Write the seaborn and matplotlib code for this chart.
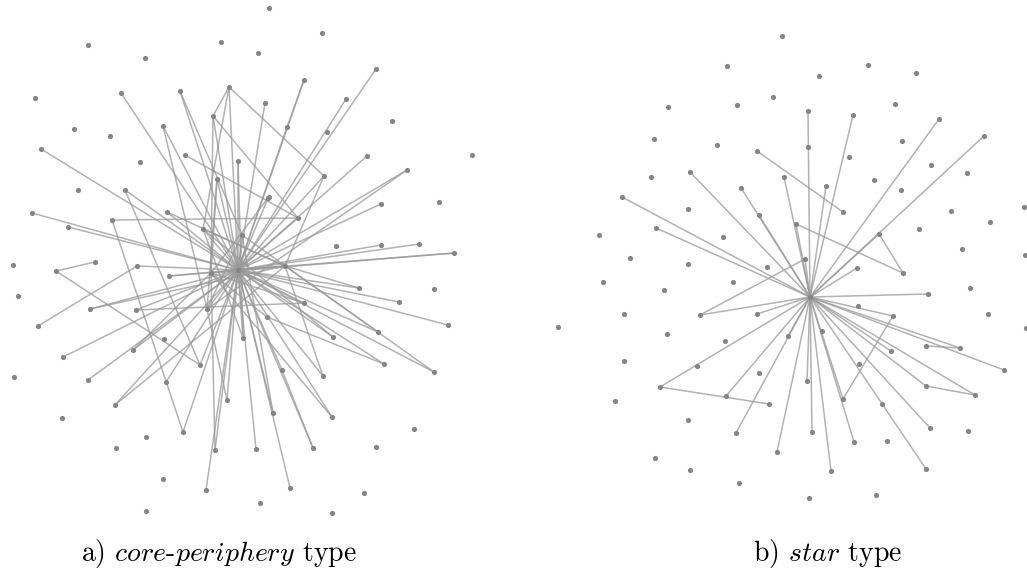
import numpy as np
import pandas as pd
import matplotlib
matplotlib.use("Agg")
import matplotlib.pyplot as plt
from matplotlib.collections import LineCollection
import seaborn as sns

# ---------------- panel a: core-periphery network (pixel layout) ----------------
a_x = [238, 88, 145, 221, 35, 74, 110, 140, 78, 269, 322, 258, 392, 327, 472, 439, 269, 336,
       13, 18, 14, 62, 146, 116, 163, 146, 434, 267, 414, 376, 364, 260, 332, 164,
       121, 180, 229, 163, 213, 41, 185, 125, 32, 68, 112, 167,
       376, 304, 346, 265, 287, 367, 407, 324, 381, 381, 419, 454, 298, 268,
       56, 95, 90, 136, 38, 63, 133, 200, 88, 166, 115, 227, 183, 215, 206, 137, 169,
       359, 399, 448, 333, 378, 384, 434, 282, 323, 273, 332, 256, 313, 290, 304, 243,
       211, 203, 242, 285, 207, 217, 238]
a_y = [270, 45, 58, 42, 98, 129, 136, 162, 190, 8, 33, 53, 121, 132, 155, 202, 197, 246,
       265, 296, 377, 418, 437, 448, 479, 511, 289, 317, 429, 447, 493, 503, 513, 339,
       93, 91, 87, 126, 116, 149, 155, 190, 213, 227, 220, 212,
       69, 80, 99, 103, 127, 156, 170, 176, 204, 245, 244, 253, 218, 198,
       271, 262, 309, 310, 326, 357, 350, 365, 380, 382, 405, 400, 432, 450, 490, 266, 276,
       288, 302, 325, 337, 332, 364, 372, 370, 376, 413, 417, 449, 448, 488, 303, 338,
       273, 229, 235, 266, 309, 179, 161]
a_hub_links = [34, 35, 36, 37, 38, 39, 41, 42, 43, 45, 46, 47, 48, 49, 50, 51, 52, 53,
               54, 55, 56, 57, 58, 59, 62, 63, 65, 66, 67, 68, 69, 70, 71, 72, 73, 74,
               75, 76, 77, 78, 79, 80, 81, 82, 83, 84, 85, 86, 87, 88, 89, 90, 91, 92,
               93, 94, 95, 96, 97, 98, 99]
a_extra_edges = [(36, 53), (36, 38), (36, 94), (38, 93), (38, 58), (41, 67), (60, 61),
                 (60, 67), (64, 75), (44, 58), (44, 72), (40, 58), (53, 96), (82, 27),
                 (83, 96), (85, 96), (89, 84), (94, 96), (93, 91), (95, 97), (98, 93),
                 (99, 92), (45, 96), (37, 97), (76, 96), (80, 94), (81, 95), (27, 93),
                 (47, 50), (77, 96), (71, 97), (66, 93), (59, 93), (98, 97), (35, 95),
                 (62, 96), (63, 91), (92, 94), (73, 93), (86, 95), (87, 93), (57, 93),
                 (52, 97), (70, 96)]

# ---------------- panel b: star network (pixel layout) ----------------
b_x = [810, 782, 727, 773, 668, 737, 654, 717, 757, 784, 651, 690, 741, 622, 688, 599, 656,
       723, 630, 688, 767, 868, 819, 916, 895, 808, 853, 939, 808, 902, 984, 849, 931, 967,
       874, 826, 901, 843, 951, 1024, 990, 919, 879, 962, 1025, 796, 805, 857, 759, 733,
       700, 757, 858, 893, 822, 788, 725, 891, 603, 664, 624, 558, 667, 624, 697, 759, 660,
       726, 615, 769, 688, 736, 777, 655, 690, 739, 903, 970, 928, 988, 1026, 926, 960,
       1004, 859, 807, 926, 975, 843, 882, 930, 968, 812, 854, 887, 926, 831, 809, 876]
b_y = [297, 36, 66, 97, 107, 105, 139, 145, 151, 177, 177, 172, 188, 197, 209, 235, 228,
       237, 258, 264, 267, 65, 76, 73, 104, 111, 115, 119, 147, 141, 136, 157, 165, 173,
       180, 186, 190, 212, 211, 207, 222, 229, 234, 249, 255, 224, 259, 268, 215, 282,
       315, 314, 306, 316, 331, 336, 341, 351, 282, 290, 314, 327, 334, 361, 366, 373, 387,
       396, 401, 404, 420, 433, 452, 458, 470, 483, 273, 288, 294, 314, 328, 346, 348,
       370, 364, 381, 386, 395, 399, 404, 428, 431, 432, 442, 441, 469, 471, 498, 495]
b_hub_links = [11, 12, 48, 9, 25, 35, 26, 27, 30, 13, 16, 45, 47, 78, 53, 82, 57, 83, 85,
               86, 87, 88, 90, 92, 93, 95, 96, 50, 51, 55, 66, 67, 71, 72, 46, 42]
b_extra_edges = [(8, 37), (45, 76), (42, 76), (50, 46), (66, 69), (81, 82), (86, 87),
                 (53, 88)]

captions = [r"a) $\mathit{core}$-$\mathit{periphery}$ type", r"b) $\mathit{star}$ type"]
caption_x = [219, 828]
caption_y = [553, 553]

sns.set_theme(style="white")
plt.rcParams["mathtext.fontset"] = "cm"

fig = plt.figure(figsize=(10.27, 5.76), dpi=100)
ax = fig.add_axes([0, 0, 1, 1])

edge_col = (0.60, 0.60, 0.60, 0.75)
node_col = "#858585"


def draw(xs, ys, hub_links, extra):
    pairs = [(0, j) for j in hub_links] + list(extra)
    segs = [[(xs[i], ys[i]), (xs[j], ys[j])] for i, j in pairs]
    ax.add_collection(LineCollection(segs, colors=[edge_col], linewidths=1.1, zorder=1))
    df = pd.DataFrame({"x": xs, "y": ys})
    sns.scatterplot(data=df, x="x", y="y", ax=ax, color=node_col, s=14,
                    linewidth=0, zorder=2, legend=False)


draw(a_x, a_y, a_hub_links, a_extra_edges)
draw(b_x, b_y, b_hub_links, b_extra_edges)
ax.set_xlim(0, 1027)
ax.set_ylim(576, 0)
ax.axis("off")

for t, cx, cy in zip(captions, caption_x, caption_y):
    ax.text(cx, cy, t, ha="center", va="center", fontsize=20,
            family="cmr10", color="black")

fig.savefig("out.png", dpi=100)
